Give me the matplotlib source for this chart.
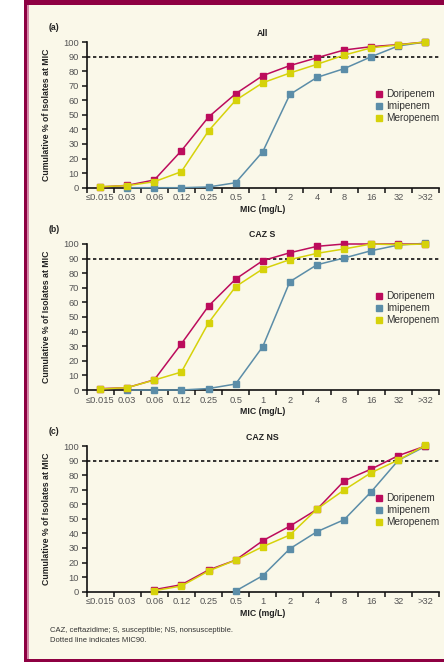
import matplotlib
matplotlib.use("Agg")
import matplotlib.pyplot as plt
from matplotlib.lines import Line2D
from matplotlib.patches import Rectangle
import numpy as np

plt.rcParams['font.family'] = ['Liberation Sans', 'DejaVu Sans']

categories = ["≤0.015", "0.03", "0.06", "0.12", "0.25", "0.5", "1", "2", "4", "8", "16", "32", ">32"]
N = np.nan

# Panel (a) All
a_dori = [0.5, 1.6, 5.3, 25.4, 48.5, 64.5, 76.9, 83.8, 89.2, 94.5, 96.8, 98.2, 100]
a_imi  = [N, 0, 0, 0, 0.5, 3.4, 24.7, 64.0, 75.7, 81.7, 89.9, 97.3, 100]
a_mero = [0.7, 1.4, 4.1, 11.0, 39.0, 60.0, 72.0, 78.7, 84.7, 91.0, 96.0, 98.0, 100]

# Panel (b) CAZ S
b_dori = [0.9, 1.6, 7.0, 31.7, 57.5, 76.0, 88.6, 94.0, 98.4, 100, 100, 100, 99.8]
b_imi  = [N, 0, 0, 0, 1.0, 4.1, 29.7, 74.2, 85.8, 90.4, 95.4, 99.3, 100.5]
b_mero = [0.7, 1.6, 6.8, 12.3, 46.0, 70.8, 82.9, 89.3, 93.6, 96.6, 100, 99.5, 100]

# Panel (c) CAZ NS
c_dori = [N, N, 1.4, 4.8, 14.9, 21.7, 35.0, 45.0, 56.5, 76.0, 84.2, 93.4, 100]
c_imi  = [N, N, N, N, N, 0.5, 11.0, 29.5, 41.2, 49.4, 68.6, 90.2, 99.8]
c_mero = [N, N, 0.7, 3.9, 14.2, 21.7, 30.9, 38.9, 56.7, 69.8, 81.7, 90.4, 100.5]

panels = [("(a)", "All", a_dori, a_imi, a_mero),
          ("(b)", "CAZ S", b_dori, b_imi, b_mero),
          ("(c)", "CAZ NS", c_dori, c_imi, c_mero)]

yticks = list(range(0, 101, 10))
c_dori_col = "#BC0C5C"
c_imi_col = "#5B8DA8"
c_mero_col = "#D6D20A"
bg = "#FAF8E9"
maroon = "#8E0042"
tick_col = "#555555"

W, H = 444, 665
fig = plt.figure(figsize=(W / 100, H / 100), dpi=100)
fig.patch.set_facecolor(bg)

# frame decorations
fig.patches.append(Rectangle((0, 0), 24 / W, 1, transform=fig.transFigure, facecolor="white", edgecolor="none", zorder=0))
fig.patches.append(Rectangle((24 / W, 0), 3 / W, 1, transform=fig.transFigure, facecolor=maroon, edgecolor="none", zorder=0))
fig.patches.append(Rectangle((27 / W, 0), 1.5 / W, 1, transform=fig.transFigure, facecolor="#D58AA8", edgecolor="none", zorder=0))
fig.patches.append(Rectangle((24 / W, 1 - 5 / H), 1, 5 / H, transform=fig.transFigure, facecolor=maroon, edgecolor="none", zorder=0))
fig.patches.append(Rectangle((24 / W, 0), 1, 3 / H, transform=fig.transFigure, facecolor="white", edgecolor="none", zorder=0))
fig.patches.append(Rectangle((24 / W, 3 / H), 1, 3 / H, transform=fig.transFigure, facecolor=maroon, edgecolor="none", zorder=0))

left_px, right_px = 86.5, 439
tops = [42, 244, 446]
bottoms = [187.7, 390, 591.7]

x = np.arange(len(categories))

for (tag, title, dori, imi, mero), top, bot in zip(panels, tops, bottoms):
    ax = fig.add_axes([left_px / W, 1 - bot / H, (right_px - left_px) / W, (bot - top) / H])
    ax.set_facecolor("none")
    ax.set_xlim(-0.5, len(categories) - 0.5)
    ax.set_ylim(0, 100)
    for s in ["top", "right"]:
        ax.spines[s].set_visible(False)
    for s in ["left", "bottom"]:
        ax.spines[s].set_linewidth(1.2)
        ax.spines[s].set_color("#111111")
    ax.set_yticks(yticks)
    ax.set_xticks(x)
    ax.set_xticklabels(categories)
    ax.set_xticks(np.arange(-0.5, len(categories), 1.0), minor=True)
    ax.tick_params(axis="x", which="major", length=0, pad=4, labelsize=6.7, labelcolor=tick_col)
    ax.tick_params(axis="x", which="minor", length=3.5, width=1.1, color="#111111")
    ax.tick_params(axis="y", length=3.5, width=1.1, color="#111111", pad=2, labelsize=6.7, labelcolor=tick_col)

    ax.axhline(90, color="#111111", lw=1.2, ls=(0, (2, 1.6)), zorder=1)

    ax.plot(x, imi, color=c_imi_col, marker="s", ms=5, lw=1.1, clip_on=False, zorder=3)
    ax.plot(x, dori, color=c_dori_col, marker="s", ms=5, lw=1.1, clip_on=False, zorder=4)
    ax.plot(x, mero, color=c_mero_col, marker="s", ms=5, lw=1.1, clip_on=False, zorder=5)

    handles = [Line2D([], [], color=c, marker="s", ls="none", ms=4.8)
               for c in (c_dori_col, c_imi_col, c_mero_col)]
    ax.legend(handles, ["Doripenem", "Imipenem", "Meropenem"], loc="center left",
              bbox_to_anchor=(0.822, 0.56), frameon=False, handlelength=0.6,
              handletextpad=0.35, labelspacing=0.2, borderaxespad=0, borderpad=0,
              prop={"size": 7.2}, labelcolor="#333333")

    ax.set_ylabel("Cumulative % of Isolates at MIC", fontsize=6.3, fontweight="bold", color="#222222", labelpad=3)
    ax.yaxis.set_label_coords(-0.1, 0.5)
    ax.set_xlabel("MIC (mg/L)", fontsize=6.3, fontweight="bold", color="#222222", labelpad=2)

    fig.text(262 / W, 1 - (top - 9) / H, title, ha="center", va="center", fontsize=6.3, fontweight="bold", color="#222222")
    fig.text(49 / W, 1 - (top - 15) / H, tag, ha="left", va="center", fontsize=6.3, fontweight="bold", color="#222222")

fig.text(50 / W, 1 - 630 / H, "CAZ, ceftazidime; S, susceptible; NS, nonsusceptible.", ha="left", va="center", fontsize=5.5, color="#333333")
fig.text(50 / W, 1 - 641 / H, "Dotted line indicates MIC90.", ha="left", va="center", fontsize=5.5, color="#333333")

fig.savefig("out.png", dpi=100, facecolor=fig.get_facecolor())
